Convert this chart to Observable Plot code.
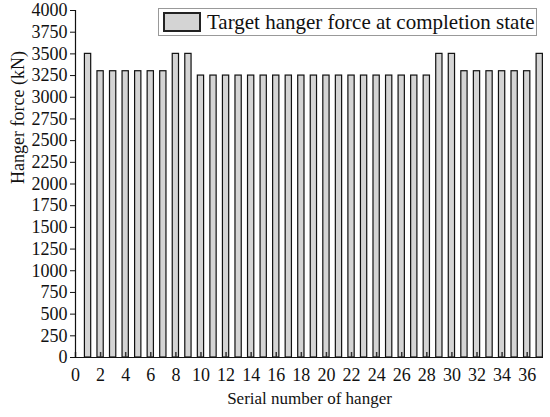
<!DOCTYPE html>
<html><head><meta charset="utf-8">
<script src="https://cdn.jsdelivr.net/npm/d3@7"></script>
<script src="https://cdn.jsdelivr.net/npm/@observablehq/plot@0.6"></script>
<style>
body{margin:0;background:#fff;}
#wrap{position:relative;width:550px;height:417px;font-family:"Liberation Serif",serif;}
#wrap svg text{font-family:"Liberation Serif",serif;}
.legend{position:absolute;left:158px;top:8px;width:379px;height:28px;border:1px solid #999;box-sizing:border-box;background:#fff;display:flex;align-items:center;}
.sw{width:38px;height:20px;margin-left:4px;background:#d4d4d4;border:2px solid #222;box-sizing:border-box;}
.lt{margin-left:6px;font-size:21px;color:#111;white-space:nowrap;font-family:"Liberation Serif",serif;}
</style></head><body><div id="wrap"></div>
<script>
const hanger = [1,2,3,4,5,6,7,8,9,10,11,12,13,14,15,16,17,18,19,20,21,22,23,24,25,26,27,28,29,30,31,32,33,34,35,36,37];
const force = [3500,3300,3300,3300,3300,3300,3300,3500,3500,
  3250,3250,3250,3250,3250,3250,3250,3250,3250,3250,3250,3250,3250,3250,3250,3250,3250,3250,3250,
  3500,3500,3300,3300,3300,3300,3300,3300,3500];
const xTicks = [0,2,4,6,8,10,12,14,16,18,20,22,24,26,28,30,32,34,36];
const yTicks = [0,250,500,750,1000,1250,1500,1750,2000,2250,2500,2750,3000,3250,3500,3750,4000];
const xTitle = "Serial number of hanger";
const yTitle = "Hanger force (kN)";
const legendLabel = "Target hanger force at completion state";

const data = hanger.map((n, i) => ({n, v: force[i]}));
const half = 0.25;
const serif = '"Liberation Serif", serif';

const chart = Plot.plot({
  width: 550, height: 417,
  marginLeft: 75, marginRight: 7, marginTop: 10, marginBottom: 60,
  style: {fontFamily: serif, fontSize: "18px", color: "#111", background: "#fff"},
  x: {domain: [0, 37.3]},
  y: {domain: [0, 4000]},
  marks: [
    Plot.rectY(data, {x1: d => d.n - half, x2: d => d.n + half, y: "v", fill: "#d4d4d4", stroke: "#111", strokeWidth: 1.2}),
    Plot.ruleX(xTicks, {stroke: "#333", strokeWidth: 1.5, insetTop: 342}),
    Plot.axisY({ticks: yTicks, tickFormat: d => String(d), tickSize: 5, tickPadding: 3, label: null, fontSize: 18, fontFamily: serif, stroke: "#111"}),
    Plot.axisX({ticks: xTicks, tickFormat: d => String(d), tickSize: 0, tickPadding: 11, label: null, fontSize: 18, fontFamily: serif}),
    Plot.ruleY([0], {stroke: "#111", strokeWidth: 1.2}),
    Plot.ruleX([0], {stroke: "#111", strokeWidth: 1.2}),
    Plot.text([xTitle], {frameAnchor: "bottom", dy: 46, fontSize: 17, fontFamily: serif, fill: "#111"}),
    Plot.text([yTitle], {frameAnchor: "left", dx: -57, rotate: -90, fontSize: 18, fontFamily: serif, fill: "#111"})
  ]
});
const wrap = document.getElementById("wrap");
wrap.appendChild(chart);
const lg = document.createElement("div");
lg.className = "legend";
lg.innerHTML = `<div class="sw"></div><div class="lt"></div>`;
lg.querySelector(".lt").textContent = legendLabel;
wrap.appendChild(lg);
</script></body></html>
